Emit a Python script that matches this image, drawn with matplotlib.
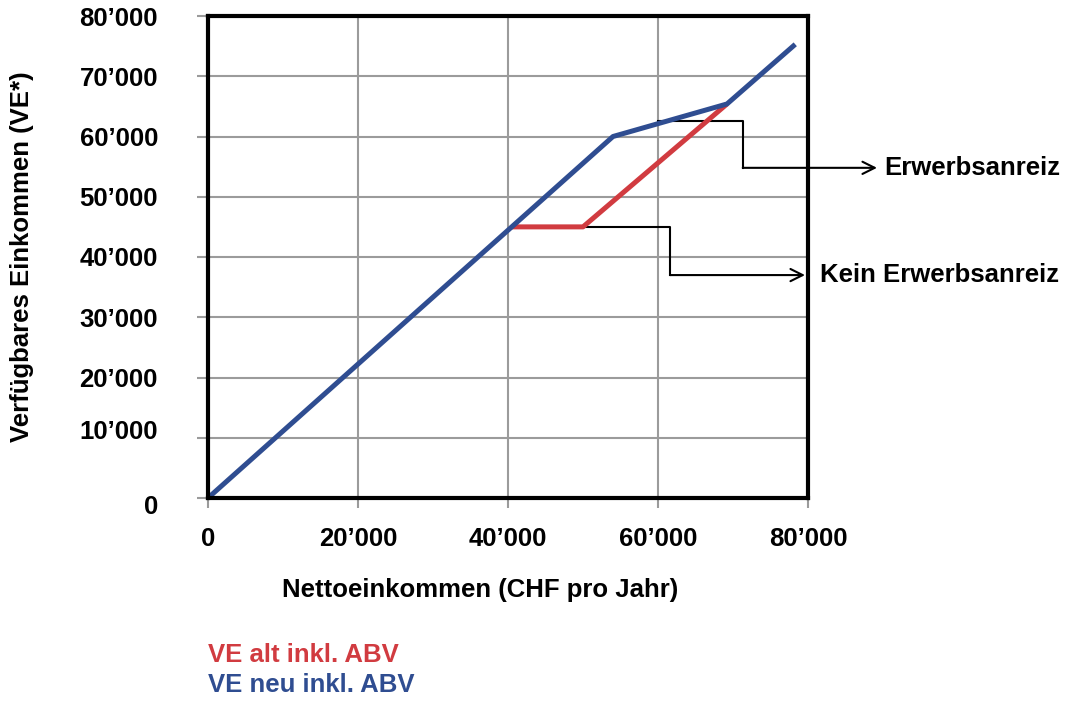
import matplotlib
matplotlib.use("Agg")
import matplotlib.pyplot as plt
from matplotlib.ticker import FixedLocator
import matplotlib.transforms as mtransforms

# Data
neu_x = [0, 54000, 69200, 78300]
neu_y = [0, 60000, 65400, 75300]
alt_x = [40500, 50000, 69200]
alt_y = [45000, 45000, 65400]

x_ticks = [0, 20000, 40000, 60000, 80000]
y_ticks = [0, 10000, 20000, 30000, 40000, 50000, 60000, 70000, 80000]

# connector lines for the annotations (data units)
erw_x = [60000, 71300, 71300]
erw_y = [62500, 62500, 54800]
erw_tip = (89200, 54800)
kein_x = [50000, 61600, 61600]
kein_y = [45000, 45000, 37000]
kein_tip = (79600, 37000)

red = '#d13b40'
blue = '#2f4d91'
grid_c = '#9b9b9b'

plt.rcParams['font.family'] = ['Liberation Sans', 'DejaVu Sans']
plt.rcParams['font.weight'] = 'bold'
fs = 18.5

def fmt(v):
    return '0' if v == 0 else '{:,}'.format(int(v)).replace(',', '\u2019')

fig = plt.figure(figsize=(10.72, 7.02), dpi=100)
ax = fig.add_axes([208 / 1072, 1 - 498 / 702, 600 / 1072, 482 / 702])

ax.set_xlim(0, 80000)
ax.set_ylim(0, 80000)

ax.xaxis.set_major_locator(FixedLocator(x_ticks))
ax.yaxis.set_major_locator(FixedLocator(y_ticks))
ax.set_xticklabels([fmt(v) for v in x_ticks], fontsize=fs, fontweight='bold')
ax.set_yticklabels([fmt(v) for v in y_ticks], fontsize=fs, fontweight='bold')
ax.tick_params(axis='both', direction='out', color=grid_c, width=1.5)
ax.tick_params(axis='x', length=7, pad=14)
ax.tick_params(axis='y', length=8, pad=28)

ax.grid(True, color=grid_c, linewidth=1.5)
ax.set_axisbelow(True)
for s in ax.spines.values():
    s.set_linewidth(3)
    s.set_color('black')
    s.set_zorder(5)

# shift the two lowest y labels a bit like the original
for lab, v in zip(ax.get_yticklabels(), y_ticks):
    if v == 0:
        lab.set_transform(lab.get_transform() + mtransforms.ScaledTranslation(0, -7 / 100, fig.dpi_scale_trans))
    elif v == 10000:
        lab.set_transform(lab.get_transform() + mtransforms.ScaledTranslation(0, 8 / 100, fig.dpi_scale_trans))

ax.plot(alt_x, alt_y, color=red, linewidth=3.6, solid_capstyle='butt', zorder=3)
ax.plot(neu_x, neu_y, color=blue, linewidth=3.6, solid_capstyle='butt', zorder=4)

# annotation connectors
ax.plot(erw_x, erw_y, color='black', linewidth=1.5, zorder=2, clip_on=False)
ax.annotate('', xy=erw_tip, xytext=(erw_x[-1], erw_y[-1]),
            arrowprops=dict(arrowstyle='->', color='black', lw=1.5, mutation_scale=22,
                            shrinkA=0, shrinkB=0), annotation_clip=False)
ax.text(erw_tip[0] + 1000, erw_tip[1], 'Erwerbsanreiz', fontsize=fs, fontweight='bold',
        va='center', ha='left', clip_on=False)

ax.plot(kein_x, kein_y, color='black', linewidth=1.5, zorder=2, clip_on=False)
ax.annotate('', xy=kein_tip, xytext=(kein_x[-1], kein_y[-1]),
            arrowprops=dict(arrowstyle='->', color='black', lw=1.5, mutation_scale=22,
                            shrinkA=0, shrinkB=0), annotation_clip=False)
ax.text(kein_tip[0] + 2000, kein_tip[1], 'Kein Erwerbsanreiz', fontsize=fs, fontweight='bold',
        va='center', ha='left', clip_on=False)

ax.set_xlabel('Nettoeinkommen (CHF pro Jahr)', fontsize=fs, fontweight='bold')
ax.xaxis.set_label_coords(0.453, -0.166)
ax.xaxis.label.set_va('top')
ax.set_ylabel('Verfügbares Einkommen (VE*)', fontsize=fs, fontweight='bold')
ax.yaxis.set_label_coords(-0.29, 0.5)

# legend as coloured text
ax.text(0.0, -0.326, 'VE alt inkl. ABV', color=red, fontsize=fs, fontweight='bold',
        transform=ax.transAxes, va='center', ha='left')
ax.text(0.0, -0.388, 'VE neu inkl. ABV', color=blue, fontsize=fs, fontweight='bold',
        transform=ax.transAxes, va='center', ha='left')

fig.savefig('out.png', dpi=100)
